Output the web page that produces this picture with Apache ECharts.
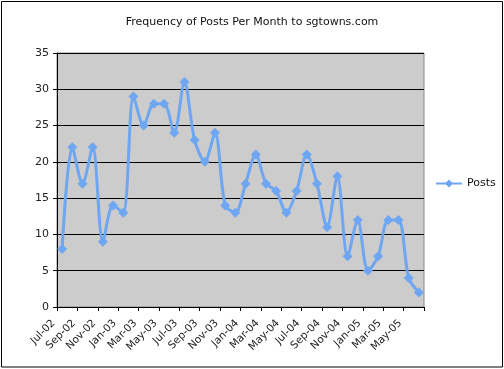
<!DOCTYPE html>
<html>
<head>
<meta charset="utf-8">
<script src="https://cdn.jsdelivr.net/npm/echarts@6/dist/echarts.min.js"></script>
<style>
html,body{margin:0;padding:0;background:#fff;}
#chart{width:504px;height:369px;}
</style>
</head>
<body>
<div id="chart"></div>
<script>
var months = ["Jul-02","Aug-02","Sep-02","Oct-02","Nov-02","Dec-02",
  "Jan-03","Feb-03","Mar-03","Apr-03","May-03","Jun-03",
  "Jul-03","Aug-03","Sep-03","Oct-03","Nov-03","Dec-03",
  "Jan-04","Feb-04","Mar-04","Apr-04","May-04","Jun-04",
  "Jul-04","Aug-04","Sep-04","Oct-04","Nov-04","Dec-04",
  "Jan-05","Feb-05","Mar-05","Apr-05","May-05","Jun-05"];
var posts = [8,22,17,22,9,14,
  13,29,25,28,28,24,
  31,23,20,24,14,13,
  17,21,17,16,13,16,
  21,17,11,18,7,12,
  5,7,12,12,4,2];
var yTicks = [0,5,10,15,20,25,30,35];
var titleText = "Frequency of Posts Per Month to sgtowns.com";
var seriesName = "Posts";

var font = "Verdana, 'DejaVu Sans', sans-serif";
var chart = echarts.init(document.getElementById('chart'), null, {renderer:'canvas'});
chart.setOption({
  animation:false,
  backgroundColor:'#fff',
  title:{text:titleText,left:'center',top:12,
    textStyle:{fontFamily:font,fontSize:11,fontWeight:'normal',color:'#111'}},
  legend:{data:[{name:seriesName}],orient:'vertical',left:430,top:173,
    itemWidth:26,itemHeight:10,itemGap:4,
    textStyle:{fontFamily:font,fontSize:11,color:'#111'}},
  grid:{left:57,right:80,top:53,bottom:62,show:true,backgroundColor:'#cccccc',borderColor:'#888',borderWidth:1},
  xAxis:{type:'category',data:months,boundaryGap:true,
    axisLine:{lineStyle:{color:'#000',width:1}},
    axisTick:{show:true,interval:1,length:4,lineStyle:{color:'#000'}},
    axisLabel:{interval:1,rotate:45,margin:6,padding:[0,12,0,0],fontFamily:font,fontSize:10.5,color:'#222'},
    splitLine:{show:false}},
  yAxis:{type:'value',min:yTicks[0],max:yTicks[yTicks.length-1],interval:5,
    axisLine:{show:true,lineStyle:{color:'#000',width:1}},
    axisTick:{show:true,length:4,lineStyle:{color:'#000'}},
    axisLabel:{margin:8,fontFamily:font,fontSize:11,color:'#222'},
    splitLine:{show:true,lineStyle:{color:'#000',width:1}}},
  series:[{name:seriesName,type:'line',data:posts,smooth:0.3,
    showAllSymbol:true,
    symbol:'diamond',symbolSize:10,
    lineStyle:{color:'#6ea6f2',width:3},
    itemStyle:{color:'#6ea6f2'}}],
  graphic:[{type:'rect',shape:{x:1.5,y:1.5,width:501,height:365.5},
    style:{fill:'none',stroke:'#000',lineWidth:1},z:100}]
});
</script>
</body>
</html>
